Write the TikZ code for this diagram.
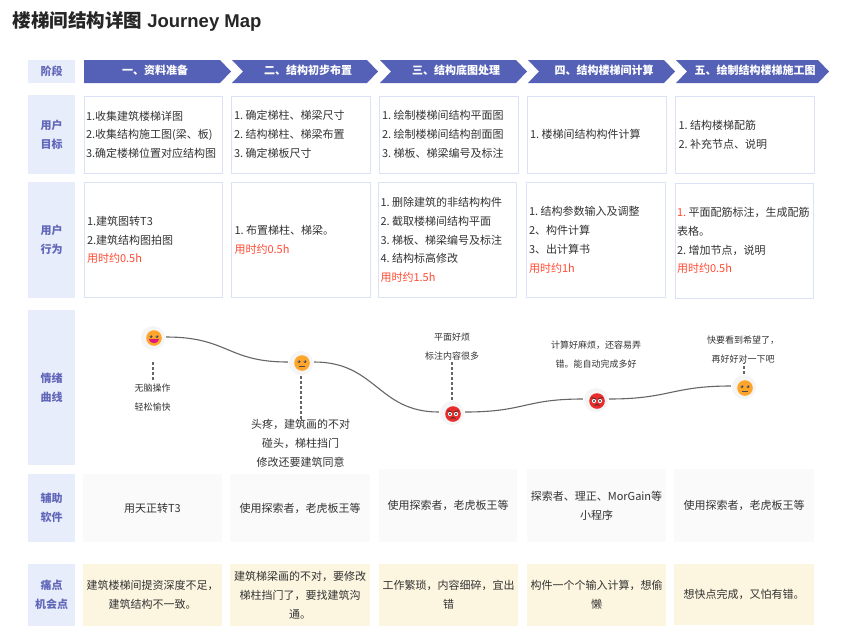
\documentclass[tikz,border=0pt]{standalone}
\usepackage{fontspec}
\setmainfont{Noto Sans CJK SC}
\newfontfamily\latinhead{Liberation Sans}
\usetikzlibrary{calc}
\definecolor{labelbg}{HTML}{E8EDFC}
\definecolor{labeltx}{HTML}{6167B8}
\definecolor{chevbg}{HTML}{5561B6}
\definecolor{cellline}{HTML}{DCE2F6}
\definecolor{celltx}{HTML}{333333}
\definecolor{hurry}{HTML}{FF4B33}
\definecolor{softbg}{HTML}{FAFAFA}
\definecolor{painbg}{HTML}{FCF5E0}
\definecolor{curvec}{HTML}{666666}
\definecolor{haloc}{HTML}{F5F5F5}
\definecolor{okface}{HTML}{FFA52C}
\definecolor{badface}{HTML}{EA2B2B}
\newcommand{\fsz}[1]{\fontsize{#1}{18.8}\selectfont}
\newcommand{\gap}{\hspace{2.4pt}}
\tikzset{
  cellbase/.style={inner sep=0pt,text=celltx,font=\fsz{11}},
  labelcell/.style={cellbase,fill=labelbg,text=labeltx,align=center,font=\fsz{11}\bfseries},
  whitecell/.style={cellbase,fill=white,draw=cellline,line width=1pt,align=left},
  softcell/.style={cellbase,fill=softbg,align=center},
  paincell/.style={cellbase,fill=painbg,align=center},
  chevtext/.style={inner sep=0pt,text=white,font=\fsz{11}\bfseries},
  halo/.style={circle,fill=haloc,minimum size=24pt,inner sep=0pt},
  moodline/.style={curvec,line width=1.1pt},
  dropline/.style={curvec,line width=1.3pt,dash pattern=on 2.5pt off 2.5pt},
  smallnote/.style={inner sep=0pt,text=celltx,align=center,font=\fsz{9}},
  bignote/.style={inner sep=0pt,text=celltx,align=center,font=\fsz{11}},
}
% name, x1, y1, x2, y2, style, pad, text
\newcommand{\cell}[8]{%
  \pgfmathsetmacro{\cw}{#4-#2}\pgfmathsetmacro{\ch}{#5-#3}%
  \pgfmathsetmacro{\cx}{(#2+#4)/2}\pgfmathsetmacro{\cy}{(#3+#5)/2}%
  \pgfmathsetmacro{\tw}{\cw-2*#7}%
  \node[#6,minimum height=\ch pt,text width=\tw pt,inner xsep=#7 pt] (#1) at (\cx,\cy) {#8};}
% name, x start, notch, x body end, x tip, text centre
\newcommand{\chev}[6]{%
  \fill[chevbg] (#2,60) -- (#4,60) -- (#5,71.5) -- (#4,83) -- (#2,83) -- (#3,71.5) -- cycle;
  \node[chevtext] (#1) at (#6,71) {\strut\csname chevt#1\endcsname};}
\newcommand{\eyes}[1]{%
  \fill[black!75] ($(#1)+(-3,-1.5)$) circle (1.5);
  \fill[black!75] ($(#1)+(3,-1.5)$) circle (1.5);
  \fill[white] ($(#1)+(-3.4,-2)$) circle (.45);
  \fill[white] ($(#1)+(2.6,-2)$) circle (.45);}
\newcommand{\goodface}[1]{%
  \fill[okface] (#1) circle (7.8);
  \eyes{#1}
  \fill[magenta!70!purple] ($(#1)+(-5.2,1)$) -- ($(#1)+(5.2,1)$) .. controls ($(#1)+(4.5,6.5)$) and ($(#1)+(-4.5,6.5)$) .. cycle;}
\newcommand{\flatface}[1]{%
  \fill[okface] (#1) circle (7.8);
  \eyes{#1}
  \draw[black!70,line width=.8pt] ($(#1)+(-2.8,3)$) -- ($(#1)+(2.8,3)$);}
\newcommand{\madface}[1]{%
  \fill[badface] (#1) circle (7.8);
  \fill[white] ($(#1)+(-3,0)$) circle (2.1);
  \fill[white] ($(#1)+(3,0)$) circle (2.1);
  \fill[black!80] ($(#1)+(-3,0)$) circle (1.1);
  \fill[black!80] ($(#1)+(3,0)$) circle (1.1);
  \draw[black!80,line width=.8pt] ($(#1)+(-5.5,-3.5)$) -- ($(#1)+(-1,-2)$);
  \draw[black!80,line width=.8pt] ($(#1)+(5.5,-3.5)$) -- ($(#1)+(1,-2)$);
  \draw[black!80,line width=.8pt] ($(#1)+(-2.5,4.5)$) .. controls ($(#1)+(-1,3)$) and ($(#1)+(1,3)$) .. ($(#1)+(2.5,4.5)$);}
\newcommand{\late}[1]{\textcolor{hurry}{#1}}
\begin{document}
\begin{tikzpicture}[x=1pt,y=-1pt]
\useasboundingbox[fill=white] (0,0) rectangle (849,641);
\node[anchor=west,inner sep=0pt,text=black!85,font=\fsz{18.5}\bfseries] (title) at (12.5,21) {楼梯间结构详图{\latinhead\bfseries\ Journey Map}};
% row labels
\cell{l1}{28}{60}{75}{83}{labelcell}{0}{阶段}
\cell{l2}{28}{95}{75}{174}{labelcell}{0}{用户\\目标}
\cell{l3}{28}{182}{75}{298}{labelcell}{0}{用户\\行为}
\cell{l4}{28}{310}{75}{465}{labelcell}{0}{情绪\\曲线}
\cell{l5}{28}{474}{75}{542}{labelcell}{0}{辅助\\软件}
\cell{l6}{28}{564}{75}{626}{labelcell}{0}{痛点\\机会点}
% stages
\expandafter\def\csname chevts1\endcsname{一、资料准备}
\expandafter\def\csname chevts2\endcsname{二、结构初步布置}
\expandafter\def\csname chevts3\endcsname{三、结构底图处理}
\expandafter\def\csname chevts4\endcsname{四、结构楼梯间计算}
\expandafter\def\csname chevts5\endcsname{五、绘制结构楼梯施工图}
\chev{s1}{84}{84}{220}{231}{155}
\chev{s2}{232}{243}{367}{378}{308}
\chev{s3}{380}{391}{516}{527}{456}
\chev{s4}{528}{539}{664}{675}{604}
\chev{s5}{676}{687}{818}{829}{755}
% goals
\cell{g1}{84}{96}{222.5}{173.5}{whitecell}{2}{1.收集建筑楼梯详图\\2.收集结构施工图(梁、板)\\3.确定楼梯位置对应结构图}
\cell{g2}{231}{96}{370}{173}{whitecell}{3}{1.\gap 确定梯柱、梯梁尺寸\\2.\gap 结构梯柱、梯梁布置\\3.\gap 确定梯板尺寸}
\cell{g3}{379}{96}{518}{173}{whitecell}{3}{1.\gap 绘制楼梯间结构平面图\\2.\gap 绘制楼梯间结构剖面图\\3.\gap 梯板、梯梁编号及标注}
\cell{g4}{527}{96}{666}{173}{whitecell}{3}{1.\gap 楼梯间结构构件计算}
\cell{g5}{675.5}{96}{814.5}{173.5}{whitecell}{3}{1.\gap 结构楼梯配筋\\2.\gap 补充节点、说明}
% actions
\cell{a1}{84}{182.5}{222.5}{297.5}{whitecell}{3}{1.建筑图转T3\\2.建筑结构图拍图\\\late{用时约0.5h}}
\cell{a2}{231.5}{182.5}{370.5}{297.5}{whitecell}{3}{1.\gap 布置梯柱、梯梁。\\\late{用时约0.5h}}
\cell{a3}{378}{182.5}{516.5}{297.5}{whitecell}{2.5}{1.\gap 删除建筑的非结构构件\\2.\gap 截取楼梯间结构平面\\3.\gap 梯板、梯梁编号及标注\\4.\gap 结构标高修改\\\late{用时约1.5h}}
\cell{a4}{526.5}{182.5}{665.5}{297.5}{whitecell}{2.5}{1.\gap 结构参数输入及调整\\2、构件计算\\3、出计算书\\\late{用时约1h}}
\cell{a5}{675}{183}{813.5}{298}{whitecell}{2}{\late{1.}\gap 平面配筋标注，生成配筋\\表格。\\2.\gap 增加节点，说明\\\late{用时约0.5h}}
% mood curve
\node[halo] (e1) at (153,338) {};
\node[halo] (e2) at (301,363) {};
\node[halo] (e3) at (452,413) {};
\node[halo] (e4) at (596,400) {};
\node[halo] (e5) at (744,387) {};
\draw[moodline] ($(e1.east)+(1,-1)$) .. controls +(62,0) and ($(e2.west)+(-62,-1)$) .. ($(e2.west)+(-1,-1)$);
\draw[moodline] ($(e2.east)+(1,-1)$) .. controls +(62,0) and ($(e3.west)+(-62,-1)$) .. ($(e3.west)+(-1,-1)$);
\draw[moodline] ($(e3.east)+(1,-1)$) .. controls +(60,0) and ($(e4.west)+(-60,-1)$) .. ($(e4.west)+(-1,-1)$);
\draw[moodline] ($(e4.east)+(1,-1)$) .. controls +(60,0) and ($(e5.west)+(-60,-1)$) .. ($(e5.west)+(-1,-1)$);
\goodface{154,338}
\flatface{302,363}
\madface{453,414}
\madface{597,401}
\flatface{745,388}
\node[smallnote] (n1) at (152.5,397.5) {无脑操作\\轻松愉快};
\node[bignote] (n2) at (300.5,443) {头疼，建筑画的不对\\碰头，梯柱挡门\\修改还要建筑同意};
\node[smallnote] (n3) at (452,346.5) {平面好烦\\标注内容很多};
\node[smallnote] (n4) at (596,354.5) {计算好麻烦，还容易弄\\错。能自动完成多好};
\node[smallnote] (n5) at (743,349.5) {快要看到希望了，\\再好好对一下吧};
\draw[dropline,shorten <=12pt,shorten >=3pt] (e1.south) -- (n1.north -| e1.south);
\draw[dropline,shorten <=1pt] (e2.south) -- (n2.north -| e2.south);
\draw[dropline,shorten <=1pt,shorten >=1pt] (e3.north) -- (n3.south -| e3.north);
\draw[dropline,shorten <=1pt] (e5.north) -- (n5.south -| e5.north);
% software
\cell{w1}{83}{474}{222}{542}{softcell}{3}{用天正转T3}
\cell{w2}{230}{474}{370}{542}{softcell}{3}{使用探索者，老虎板王等}
\cell{w3}{379}{469}{517}{542}{softcell}{3}{使用探索者，老虎板王等}
\cell{w4}{527}{469}{666}{542}{softcell}{3}{探索者、理正、MorGain等\\小程序}
\cell{w5}{674}{469}{814}{542}{softcell}{3}{使用探索者，老虎板王等}
% pain points
\cell{p1}{83}{564}{222}{626}{paincell}{2}{建筑楼梯间提资深度不足，\\建筑结构不一致。}
\cell{p2}{230}{564}{370}{626}{paincell}{2}{建筑梯梁画的不对，要修改\\梯柱挡门了，要找建筑沟\\通。}
\cell{p3}{379}{564}{518}{626}{paincell}{2}{工作繁琐，内容细碎，宜出\\错}
\cell{p4}{527}{564}{666}{626}{paincell}{2}{构件一个个输入计算，想偷\\懒}
\cell{p5}{674}{564}{814}{625}{paincell}{2}{想快点完成，又怕有错。}
\end{tikzpicture}
\end{document}
